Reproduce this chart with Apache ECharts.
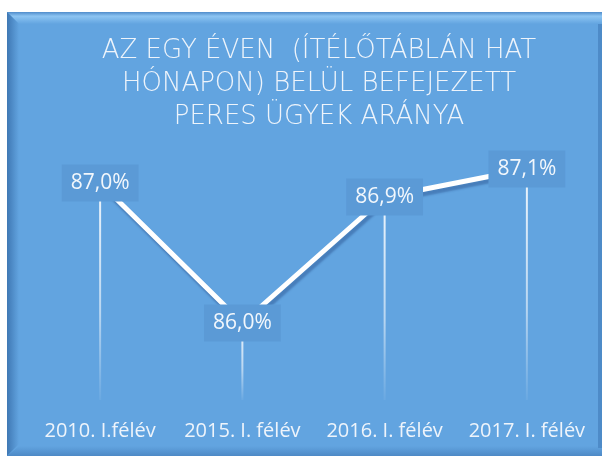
<!DOCTYPE html>
<html>
<head>
<meta charset="utf-8">
<script src="https://cdn.jsdelivr.net/npm/echarts@6/dist/echarts.min.js"></script>
<style>
  html, body { margin: 0; padding: 0; background: #ffffff; }
  #chart { width: 602px; height: 459px; }
</style>
</head>
<body>
<div id="chart"></div>
<script>
// chart data
const categories = ['2010. I.félév', '2015. I. félév', '2016. I. félév', '2017. I. félév']
const shares = [87.0, 86.0, 86.9, 87.1]
const titleText = 'AZ EGY ÉVEN  (ÍTÉLŐTÁBLÁN HAT\nHÓNAPON) BELÜL BEFEJEZETT\nPERES ÜGYEK ARÁNYA'

const blue = '#62a4e0'
const labelBlue = '#5b9ad6'

const chart = echarts.init(document.getElementById('chart'), null, { renderer: 'canvas' })

const option = {
  backgroundColor: '#ffffff',
  animation: false,
  graphic: [
    // panel with bevelled edges
    { type: 'rect', z: -10, shape: { x: 7, y: 12, width: 595, height: 444 }, style: { fill: blue } },
    {
      type: 'polygon', z: -9,
      shape: { points: [[7, 12], [602, 12], [602, 24], [19, 24]] },
      style: {
        fill: new echarts.graphic.LinearGradient(0, 0, 0, 1, [
          { offset: 0, color: '#4f8ccb' },
          { offset: 0.35, color: '#8cc4f2' },
          { offset: 1, color: blue },
        ]),
      },
    },
    {
      type: 'polygon', z: -8,
      shape: { points: [[7, 12], [19, 24], [19, 444], [7, 456]] },
      style: {
        fill: new echarts.graphic.LinearGradient(0, 0, 1, 0, [
          { offset: 0, color: '#3f78b4' },
          { offset: 1, color: blue },
        ]),
      },
    },
    {
      type: 'polygon', z: -9,
      shape: { points: [[7, 456], [19, 446], [602, 446], [602, 456]] },
      style: {
        fill: new echarts.graphic.LinearGradient(0, 0, 0, 1, [
          { offset: 0, color: blue },
          { offset: 1, color: '#4d89c6' },
        ]),
      },
    },
    {
      type: 'rect', z: -9,
      shape: { x: 598, y: 24, width: 4, height: 424 },
      style: { fill: '#4e8bc8' },
    },
  ],
  title: {
    text: titleText,
    left: 314,
    top: 30,
    textAlign: 'center',
    textStyle: {
      color: '#eef4fb',
      fontFamily: 'DejaVu Sans',
      fontWeight: 200,
      fontSize: 26,
      lineHeight: 33,
    },
  },
  grid: { left: 29, right: 4, top: 141, bottom: 59 },
  xAxis: {
    type: 'category',
    data: categories,
    boundaryGap: true,
    axisLine: { show: false },
    axisTick: { show: false },
    axisLabel: {
      interval: 0,
      color: '#eef4fb',
      fontFamily: 'Open Sans',
      fontSize: 20,
      margin: 21,
    },
  },
  yAxis: {
    type: 'value',
    min: 85.45,
    max: 87.3,
    show: false,
    splitLine: { show: false },
  },
  series: [
    {
      // drop lines
      type: 'bar',
      data: shares,
      barWidth: 2,
      z: 1,
      itemStyle: {
        color: new echarts.graphic.LinearGradient(0, 0, 0, 1, [
          { offset: 0, color: 'rgba(255,255,255,0.9)' },
          { offset: 0.6, color: 'rgba(255,255,255,0.55)' },
          { offset: 1, color: 'rgba(255,255,255,0.05)' },
        ]),
      },
    },
    {
      type: 'line',
      data: shares,
      z: 3,
      symbol: 'circle',
      symbolSize: 1,
      showSymbol: true,
      itemStyle: { color: '#ffffff' },
      lineStyle: {
        color: '#ffffff',
        width: 5,
        shadowColor: 'rgba(40,80,140,0.45)',
        shadowOffsetX: 2,
        shadowOffsetY: 4,
        shadowBlur: 2,
      },
      label: {
        show: true,
        position: 'inside',
        formatter: (p) => p.value.toFixed(1).replace('.', ',') + '%',
        color: '#f2f7fc',
        fontFamily: 'Open Sans',
        fontSize: 21,
        lineHeight: 23,
        backgroundColor: labelBlue,
        padding: [7, 9, 7, 9],
      },
    },
  ],
}

chart.setOption(option)
</script>
</body>
</html>
